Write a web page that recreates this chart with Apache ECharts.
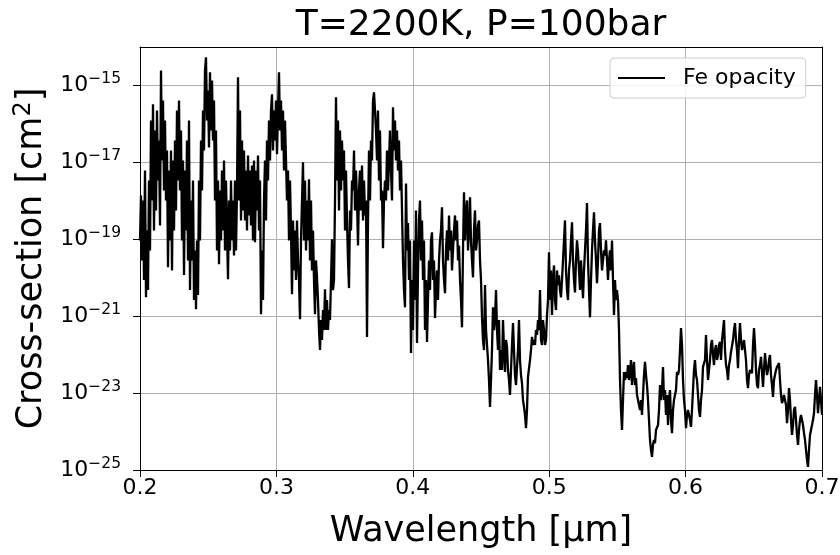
<!DOCTYPE html>
<html>
<head>
<meta charset="utf-8">
<script src="https://cdn.jsdelivr.net/npm/echarts@6/dist/echarts.min.js"></script>
<style>html,body{margin:0;padding:0;background:#fff;}#c{width:840px;height:555px;}</style>
</head>
<body>
<div id="c"></div>
<script>
// Wavelength sampling grid of the spectrum (µm)
const wavelengthStart = 0.2;
const wavelengthEnd = 0.7;
// log10 of Fe cross-section [cm^2], uniform in wavelength
const logSigma = [
-19.03,-17.86,-19.55,-17.99,-20.06,-17.21,-20.51,-18.77,-20.32,-17.47,
-19.29,-15.91,-17.99,-15.49,-18.77,-16.17,-18.25,-15.65,-17.47,-16.43,
-18.64,-14.61,-16.95,-15.39,-17.73,-15.91,-17.99,-16.69,-19.73,-17.21,
-19.03,-16.69,-19.81,-16.95,-18.77,-16.43,-18.25,-15.65,-17.47,-15.39,
-17.73,-16.17,-19.03,-16.95,-19.93,-17.21,-18.77,-16.43,-19.55,-15.91,
-20.32,-17.99,-19.55,-17.47,-20.58,-19.29,-20.82,-19.03,-20.45,-17.47,
-19.03,-16.43,-17.73,-15.65,-16.69,-14.61,-14.27,-15.91,-15.13,-16.61,
-14.66,-16.17,-14.87,-16.43,-15.39,-17.99,-16.17,-19.29,-17.47,-19.65,
-17.73,-19.03,-17.21,-18.77,-16.95,-19.29,-17.47,-18.77,-20.04,-17.99,
-19.29,-17.47,-19.03,-17.99,-19.42,-17.47,-19.29,-17.73,-14.79,-17.99,
-15.65,-18.51,-16.43,-18.25,-16.69,-18.51,-17.21,-18.77,-16.82,-18.38,
-17.21,-18.64,-17.08,-19.03,-16.95,-19.08,-17.21,-18.25,-16.82,-18.77,
-17.47,-20.95,-19.29,-20.58,-17.99,-16.95,-18.51,-16.43,-17.47,-15.91,
-16.95,-15.65,-15.23,-16.69,-15.65,-16.43,-15.39,-16.79,-15.65,-14.66,
-16.17,-15.39,-16.69,-15.65,-17.21,-15.91,-16.95,-17.99,-17.21,-19.03,
-17.47,-18.77,-20.43,-18.51,-19.81,-18.77,-20.06,-18.51,-19.55,-20.06,
-21.08,-19.03,-17.99,-17.00,-19.03,-17.47,-19.29,-17.99,-19.03,-17.44,
-19.55,-17.99,-19.81,-18.77,-20.06,-20.95,-19.55,-19.99,-20.58,-21.36,
-21.88,-21.10,-21.62,-20.84,-21.36,-20.30,-21.36,-20.58,-21.36,-20.84,
-21.10,-20.06,-19.00,-20.32,-20.06,-17.99,-15.31,-17.47,-15.91,-18.25,
-16.17,-17.73,-16.43,-17.47,-16.69,-18.77,-17.21,-18.51,-19.55,-20.27,
-18.25,-18.77,-17.47,-17.73,-16.69,-18.25,-17.21,-17.99,-19.16,-17.73,
-17.21,-18.25,-17.08,-18.51,-17.47,-18.38,-17.99,-21.54,-18.51,-16.69,
-17.99,-16.43,-16.95,-15.39,-15.18,-15.65,-16.17,-16.95,-15.65,-17.47,
-16.17,-17.99,-17.73,-19.23,-17.99,-17.47,-17.99,-16.69,-17.73,-16.95,
-16.17,-17.21,-17.99,-15.57,-16.69,-15.91,-16.95,-16.17,-17.21,-16.43,
-17.73,-16.95,-18.25,-19.55,-20.32,-20.77,-17.55,-19.29,-18.58,-20.06,
-19.03,-21.96,-20.06,-21.36,-19.03,-20.58,-18.25,-21.70,-19.81,-18.51,
-17.99,-19.55,-18.51,-20.06,-19.03,-21.36,-20.06,-21.67,-20.58,-19.55,
-20.32,-19.03,-18.82,-20.06,-19.55,-21.05,-20.32,-19.81,-20.58,-19.55,
-19.03,-18.77,-18.17,-19.55,-20.06,-20.40,-19.29,-18.77,-19.55,-18.38,
-19.29,-18.77,-19.81,-19.29,-18.77,-18.38,-19.03,-18.51,-19.55,-19.16,
-20.06,-20.58,-21.29,-19.29,-17.78,-19.03,-18.38,-17.99,-19.29,-18.77,
-17.91,-19.03,-19.55,-19.99,-18.77,-18.25,-19.29,-19.03,-18.64,-18.51,
-19.55,-20.06,-21.03,-21.62,-21.88,-20.19,-21.36,-21.75,-22.14,-22.66,
-23.36,-22.66,-21.88,-20.77,-21.36,-21.10,-20.32,-21.36,-21.88,-21.10,
-22.40,-21.88,-22.40,-21.10,-21.88,-22.45,-21.62,-21.80,-22.40,-22.66,
-23.05,-22.40,-21.75,-21.18,-21.88,-22.53,-22.79,-22.84,-21.88,-21.10,
-22.14,-22.53,-22.74,-23.18,-23.36,-23.57,-23.91,-23.44,-22.58,-22.53,
-22.14,-21.88,-21.54,-21.75,-21.62,-21.75,-21.36,-21.49,-21.10,-21.36,
-20.32,-21.62,-21.75,-21.10,-21.36,-21.75,-21.62,-20.97,-20.58,-19.34,
-20.58,-19.81,-20.97,-20.06,-19.68,-20.58,-20.84,-19.81,-20.19,-19.94,
-20.32,-20.51,-20.06,-19.55,-19.03,-18.51,-19.81,-20.32,-20.58,-19.81,
-19.55,-19.03,-18.56,-19.55,-20.06,-20.38,-19.55,-19.03,-19.34,-19.81,
-20.32,-19.55,-20.06,-20.53,-19.81,-19.29,-18.77,-18.06,-19.55,-20.32,
-21.03,-20.06,-19.29,-18.77,-18.30,-19.03,-19.55,-20.14,-19.55,-18.77,
-18.58,-19.29,-19.81,-19.81,-19.29,-19.42,-19.03,-19.55,-20.06,-19.55,
-19.29,-19.81,-19.03,-20.06,-20.97,-20.06,-20.58,-20.32,-20.58,-21.36,
-22.66,-23.44,-23.96,-23.18,-22.45,-22.66,-22.45,-22.61,-22.27,-22.66,
-22.45,-22.14,-22.79,-22.40,-22.19,-22.79,-22.61,-23.05,-23.18,-23.31,
-23.44,-23.18,-23.57,-23.05,-22.53,-22.19,-22.53,-22.79,-23.18,-23.70,
-24.22,-24.48,-24.66,-24.35,-24.22,-24.30,-23.96,-23.91,-23.83,-23.44,
-22.79,-23.18,-22.92,-22.32,-23.18,-22.92,-23.57,-23.05,-23.83,-23.18,
-22.92,-23.70,-24.04,-23.44,-23.18,-23.18,-22.92,-22.45,-22.53,-22.40,
-21.88,-21.31,-21.75,-22.66,-23.18,-23.44,-23.91,-23.57,-23.44,-23.49,
-23.70,-23.88,-23.44,-22.92,-22.40,-22.14,-22.53,-22.66,-23.05,-23.44,
-23.62,-23.18,-22.92,-22.32,-22.27,-22.14,-21.49,-22.14,-22.66,-22.40,
-22.14,-21.75,-21.62,-22.01,-22.27,-21.88,-21.75,-22.14,-22.01,-21.75,
-21.67,-22.14,-21.62,-21.36,-21.10,-21.88,-22.27,-22.40,-22.66,-22.27,
-22.14,-21.93,-21.88,-21.62,-21.36,-21.18,-21.62,-21.88,-22.35,-21.62,
-21.18,-21.62,-21.88,-21.88,-21.62,-21.57,-22.14,-22.66,-22.87,-22.53,
-22.40,-22.35,-22.48,-21.75,-21.31,-21.75,-22.40,-22.79,-22.87,-22.40,
-22.27,-22.06,-22.06,-22.84,-22.40,-21.96,-22.27,-22.53,-22.40,-22.14,
-22.01,-22.53,-22.79,-23.10,-22.66,-22.53,-22.40,-22.32,-22.27,-22.22,
-22.66,-23.05,-23.26,-23.18,-23.05,-23.00,-23.31,-23.78,-23.44,-22.87,
-23.18,-23.70,-24.09,-23.83,-23.44,-23.36,-23.70,-24.09,-24.35,-23.96,
-23.70,-23.57,-23.62,-23.83,-24.04,-24.22,-24.48,-24.74,-24.92,-24.48,
-24.09,-23.96,-23.83,-23.70,-23.52,-23.05,-22.66,-23.05,-23.52,-23.18,
-22.84,-23.18,-23.57
];
const xTicks = [0.2, 0.3, 0.4, 0.5, 0.6, 0.7];
const yTickExponents = [-25, -23, -21, -19, -17, -15];
const seriesName = 'Fe opacity';
const titleText = 'T=2200K, P=100bar';

const FONT = 'DejaVu Sans';
const step = (wavelengthEnd - wavelengthStart) / (logSigma.length - 1);
const seriesData = logSigma.map((e, i) => [wavelengthStart + i * step, Math.pow(10, e)]);
const yTickValues = yTickExponents.map(e => Math.pow(10, e));

const chart = echarts.init(document.getElementById('c'), null, {renderer: 'canvas'});
chart.setOption({
  animation: false,
  backgroundColor: '#ffffff',
  textStyle: {fontFamily: FONT},
  title: {
    text: titleText, left: 481, top: 8, textAlign: 'center', padding: 0,
    textStyle: {fontFamily: FONT, fontSize: 36, fontWeight: 'normal', color: '#000'}
  },
  legend: {
    left: 610, top: 58, padding: [9, 10, 9, 8],
    icon: 'rect', itemWidth: 47, itemHeight: 2,
    borderColor: '#cccccc', borderWidth: 1, borderRadius: 4,
    backgroundColor: 'rgba(255,255,255,0.85)',
    textStyle: {fontFamily: FONT, fontSize: 22, color: '#000', padding: [0, 0, 0, 13]},
    data: [seriesName]
  },
  grid: {left: 140, right: 18, top: 47, bottom: 85, containLabel: false, outerBoundsMode: 'none'},
  xAxis: [{
    type: 'value', min: 0.2, max: 0.7, interval: 0.1,
    name: 'Wavelength [µm]', nameLocation: 'middle', nameGap: 44,
    nameTextStyle: {fontFamily: FONT, fontSize: 35, color: '#000'},
    axisLine: {show: true, onZero: false, lineStyle: {color: '#000', width: 1}},
    axisTick: {show: true, length: 7, lineStyle: {color: '#000', width: 1}},
    axisLabel: {fontFamily: FONT, fontSize: 22, color: '#000', margin: 7,
      showMinLabel: true, showMaxLabel: true,
      formatter: v => xTicks.some(t => Math.abs(t - v) < 1e-9) ? v.toFixed(1) : ''},
    splitLine: {show: true, lineStyle: {color: '#b0b0b0', width: 1}}
  }, {
    type: 'value', position: 'top', min: 0.2, max: 0.7, interval: 0.1,
    axisLine: {show: true, onZero: false, lineStyle: {color: '#000', width: 1}},
    axisTick: {show: false}, axisLabel: {show: false}, splitLine: {show: false}
  }],
  yAxis: [{
    type: 'log', logBase: 10, min: 1e-25, max: 1e-14,
    name: '{n|Cross-section [cm}{s|2}{n|]}', nameLocation: 'middle', nameGap: 88, nameRotate: 90,
    nameTextStyle: {
      rich: {
        n: {fontFamily: FONT, fontSize: 35, color: '#000', lineHeight: 40},
        s: {fontFamily: FONT, fontSize: 24, color: '#000', lineHeight: 24, verticalAlign: 'top'}
      }
    },
    axisLine: {show: true, onZero: false, lineStyle: {color: '#000', width: 1}},
    axisTick: {show: true, length: 7, customValues: yTickValues, lineStyle: {color: '#000', width: 1}},
    axisLabel: {
      customValues: yTickValues, margin: 19,
      formatter: v => {
        const e = Math.round(Math.log10(v));
        return '{b|10}{e|' + (e < 0 ? '\u2212' : '') + Math.abs(e) + '}';
      },
      rich: {
        b: {fontFamily: FONT, fontSize: 22, color: '#000', lineHeight: 28},
        e: {fontFamily: FONT, fontSize: 15.5, color: '#000', lineHeight: 14, verticalAlign: 'top'}
      }
    },
    splitLine: {show: true, lineStyle: {color: '#b0b0b0', width: 1}}
  }, {
    type: 'log', logBase: 10, min: 1e-25, max: 1e-14, position: 'right',
    axisLine: {show: true, onZero: false, lineStyle: {color: '#000', width: 1}},
    axisTick: {show: false}, axisLabel: {show: false}, splitLine: {show: false}
  }],
  series: [{
    name: seriesName, type: 'line', xAxisIndex: 0, yAxisIndex: 0,
    data: seriesData, symbol: 'none', showSymbol: false, smooth: false,
    lineStyle: {color: '#000', width: 2.3}, itemStyle: {color: '#000'},
    z: 5
  }]
});
</script>
</body>
</html>
